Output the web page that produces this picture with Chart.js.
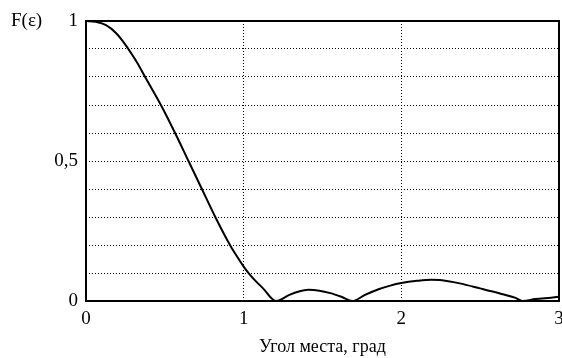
<!DOCTYPE html>
<html>
<head>
<meta charset="utf-8">
<script src="https://cdn.jsdelivr.net/npm/chart.js@4"></script>
<style>
  html, body { margin: 0; padding: 0; background: #fff; }
</style>
</head>
<body>
<canvas id="container-chart" width="562" height="358"></canvas>
<script>
// угол места, град
const angles = [0, 0.06, 0.127, 0.19, 0.254, 0.32, 0.375, 0.475, 0.565, 0.65, 0.735, 0.82, 0.913, 0.96, 1.0, 1.035, 1.075, 1.12, 1.205,
  1.29, 1.35, 1.41, 1.48, 1.55, 1.62, 1.69, 1.77, 1.86, 1.93, 2.0, 2.1, 2.19, 2.245, 2.37, 2.5, 2.625, 2.72, 2.77,
  2.85, 2.95, 3.0];
// F(ε)
const values = [1, 0.997, 0.985, 0.957, 0.912, 0.855, 0.8, 0.7, 0.6, 0.5, 0.4, 0.3, 0.2, 0.157, 0.123, 0.097, 0.072, 0.047, 0,
  0.022, 0.034, 0.04, 0.037, 0.028, 0.015, 0, 0.022, 0.043, 0.055, 0.064, 0.072, 0.076, 0.075, 0.063, 0.045, 0.027, 0.012, 0,
  0.007, 0.012, 0.015];
const yTickLabels = {0: '0', 5: '0,5', 10: '1'};
const xTickLabels = ['0', '1', '2', '3'];

const font = 'Liberation Serif, Times New Roman, serif';

const ctx = document.querySelector('#container-chart').getContext('2d');

// подпись оси Y и рамка
const extras = {
  id: 'extras',
  beforeDatasetsDraw(chart) {
    const {ctx: c, chartArea: a} = chart;
    c.save();
    c.strokeStyle = '#000';
    c.lineWidth = 2;
    c.strokeRect(a.left, a.top, a.right - a.left, a.bottom - a.top);
    c.restore();
  },
  afterDraw(chart) {
    const c = chart.ctx;
    c.save();
    c.font = '19px ' + font;
    c.fillStyle = '#000';
    c.textAlign = 'left';
    c.textBaseline = 'middle';
    c.fillText('F(ε)', 11, 21);
    c.restore();
  }
};

const configChart = {
  type: 'line',
  data: {
    datasets: [{
      data: angles.map((a, i) => ({x: a, y: values[i]})),
      borderColor: '#000',
      borderWidth: 2,
      pointRadius: 0,
      cubicInterpolationMode: 'monotone',
      fill: false
    }]
  },
  options: {
    responsive: false,
    animation: false,
    layout: { padding: { top: 21, right: 3, left: 0, bottom: 0 } },
    plugins: { legend: { display: false }, tooltip: { enabled: false } },
    scales: {
      x: {
        type: 'linear',
        min: 0, max: 3,
        ticks: {
          stepSize: 1,
          color: '#000',
          font: { family: font, size: 19 },
          padding: 7,
          callback: (v) => xTickLabels[v] ?? ''
        },
        grid: {
          color: (c) => (c.tick && (c.tick.value === 0 || c.tick.value === 3)) ? 'rgba(0,0,0,0)' : '#000',
          lineWidth: 1,
          drawTicks: false
        },
        border: { display: false, dash: [1, 2] },
        title: {
          display: true,
          text: 'Угол места, град',
          color: '#000',
          font: { family: font, size: 18 },
          padding: { top: 4, bottom: 0 }
        },
        afterFit: (s) => { s.height = 57; s.paddingRight = 0; s.paddingLeft = 0; }
      },
      y: {
        min: 0, max: 1,
        ticks: {
          stepSize: 0.1,
          color: '#000',
          font: { family: font, size: 19 },
          padding: 8,
          autoSkip: false,
          callback: (v) => yTickLabels[Math.round(v * 10)] ?? ''
        },
        grid: {
          color: (c) => (c.tick && (c.tick.value <= 0.001 || c.tick.value >= 0.999)) ? 'rgba(0,0,0,0)' : '#000',
          lineWidth: 1,
          drawTicks: false
        },
        border: { display: false, dash: [1, 2] },
        afterFit: (s) => { s.width = 86; s.paddingTop = 0; s.paddingBottom = 0; }
      }
    }
  },
  plugins: [extras]
};

const myChart = new Chart(ctx, configChart);
</script>
</body>
</html>
